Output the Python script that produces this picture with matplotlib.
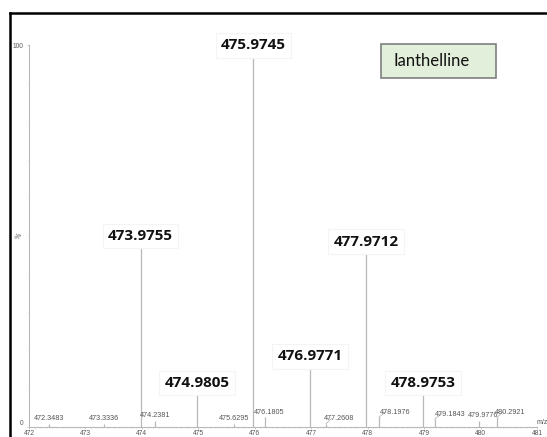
import matplotlib.pyplot as plt
from matplotlib.lines import Line2D
from matplotlib.patches import Rectangle

# main peaks (m/z, relative intensity %)
major_mz = [473.9755, 474.9805, 475.9745, 476.9771, 477.9712, 478.9753]
major_int = [50.0, 11.5, 100.0, 18.5, 48.5, 11.5]

# minor peaks with small labels
minor_mz = [472.3483, 473.3336, 474.2381, 475.6295, 476.1805, 477.2608,
            478.1976, 479.1843, 479.9776, 480.2921]
minor_int = [0.8, 0.8, 1.5, 0.8, 2.5, 0.8, 2.5, 2.0, 1.5, 2.5]
minor_dx = [0, 0, 0, 0, 0.07, 0.23, 0.28, 0.28, 0.07, 0.23]

x_ticks = list(range(472, 482))

fig = plt.figure(figsize=(5.47, 4.37), dpi=100)
ax = fig.add_axes([0.053, 0.0235, 0.929, 0.873])

grey = "#b8b8b8"
ax.vlines(major_mz, 0, major_int, color=grey, lw=0.9)
ax.vlines(minor_mz, 0, minor_int, color=grey, lw=0.9)

for mz, h in zip(major_mz, major_int):
    ax.text(mz, h, f"{mz:.4f}", ha="center", va="center", fontsize=11,
            fontweight="bold", family="Open Sans", color="#111111", zorder=5,
            bbox=dict(boxstyle="square,pad=0.35", fc="white", ec="#f4f4f4", lw=0.8),
            clip_on=False)

for mz, h, dx in zip(minor_mz, minor_int, minor_dx):
    ax.text(mz + dx, h + 0.4, f"{mz:.4f}", ha="center", va="bottom",
            fontsize=5.2, color="#555555", family="Liberation Sans")
    if dx > 0.1:
        ax.plot([mz, mz + dx * 0.45], [h, h + 1.4], color=grey, lw=0.6)

ax.set_xlim(472, 481)
ax.set_ylim(0, 100)
ax.set_xticks(x_ticks)
ax.set_xticks([472 + i * 0.1 for i in range(91)], minor=True)
ax.set_yticks([0, 100])
ax.set_yticks(range(0, 101, 10), minor=True)
ax.tick_params(axis="both", labelsize=4.8, labelcolor="#555555", color=grey,
               length=1.5, width=0.5, pad=0.5)
ax.tick_params(axis="y", pad=2.5)
for lab in ax.get_xticklabels() + ax.get_yticklabels():
    lab.set_family("Liberation Sans")
ax.get_yticklabels()[0].set_va("bottom")
ax.tick_params(axis="both", which="minor", length=1, width=0.4, color=grey)
for s in ["top", "right"]:
    ax.spines[s].set_visible(False)
for s in ["left", "bottom"]:
    ax.spines[s].set_color(grey)
    ax.spines[s].set_linewidth(0.8)
ax.text(-0.012, 0.5, "%", transform=ax.transAxes, rotation=60, fontsize=5,
        color="#555555", ha="right", va="center")
ax.text(0.9995, 0.012, "m/z", transform=ax.transAxes, fontsize=5,
        color="#555555", ha="left", va="center", family="Liberation Sans")

# sample name box
fig.add_artist(Rectangle((0.6965, 0.8215), 0.2103, 0.0778, transform=fig.transFigure,
                         fc="#e2efda", ec="#7f7f7f", lw=1.2))
fig.text(0.7185, 0.8604, "Ianthelline", fontsize=12, family="Lato", va="center",
         ha="left", color="#111111")

# screenshot frame
fig.add_artist(Line2D([0.019, 0.019], [0, 0.971], color="black", lw=1.8,
                      transform=fig.transFigure))
fig.add_artist(Line2D([0.019, 1.0], [0.971, 0.971], color="black", lw=1.8,
                      transform=fig.transFigure))

fig.savefig("out.png", dpi=100)
